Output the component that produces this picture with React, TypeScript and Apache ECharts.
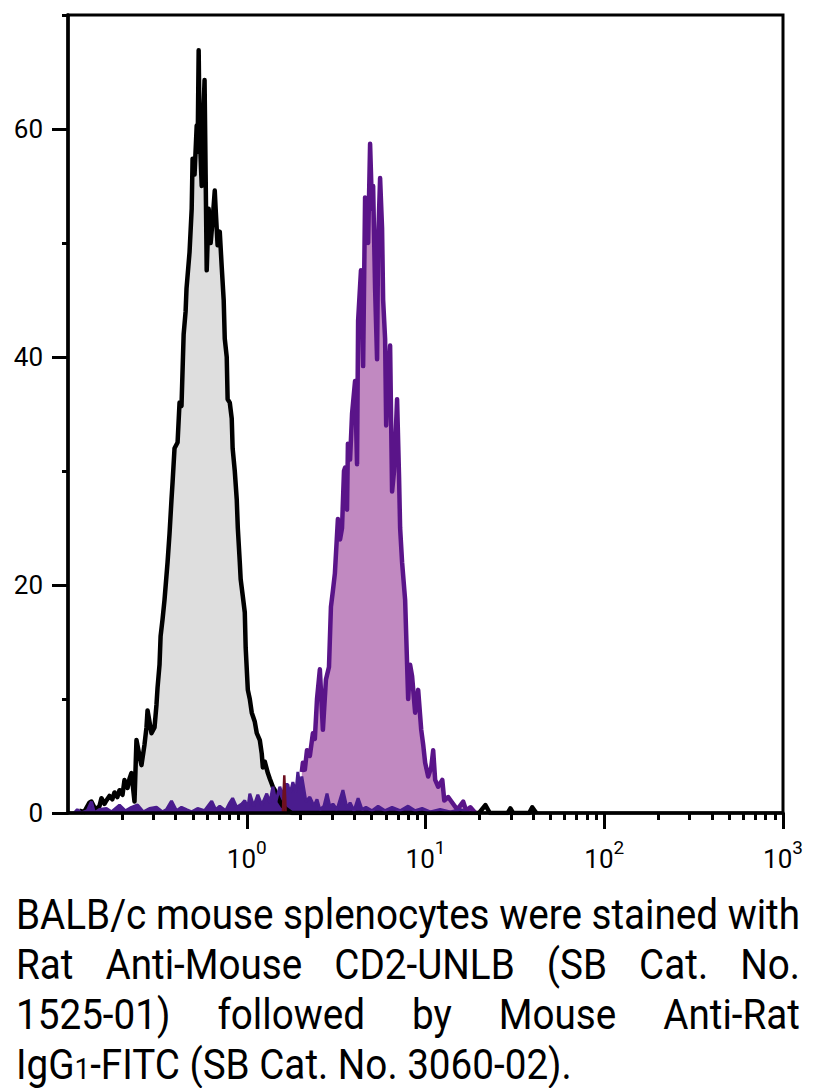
import React, { useEffect, useRef } from "react";
import * as echarts from "echarts";

// ---- ticks ----
const yMajorTicks = [0, 20, 40, 60];
const yMinorTicks = [10, 30, 50, 70];
const xMajorDecades = [0, 1, 2, 3];
const xMinorMultipliers = [2, 3, 4, 5, 6, 7, 8, 9];
const xMinorDecades: number[] = [];
[-1, 0, 1, 2].forEach((d) => xMinorMultipliers.forEach((m) => xMinorDecades.push(d + Math.log10(m))));

// ---- data: [log10 fluorescence, count] ----
const blackOutline: [number, number][] = [
  [-0.937, 0.2], [-0.909, 0.1], [-0.881, 0.9], [-0.869, 1.0], [-0.847, 0.3], [-0.824, 0.6],
  [-0.813, 1.3], [-0.796, 0.8], [-0.785, 1.1], [-0.768, 1.5], [-0.752, 1.2], [-0.74, 1.8],
  [-0.724, 1.4], [-0.712, 2.0], [-0.695, 1.6], [-0.684, 2.9], [-0.667, 2.2], [-0.656, 3.0],
  [-0.645, 3.5], [-0.628, 1.0], [-0.617, 6.4], [-0.6, 5.0], [-0.589, 4.2], [-0.572, 6.0],
  [-0.561, 7.5], [-0.555, 9.0], [-0.544, 8.0], [-0.533, 7.0], [-0.516, 7.5], [-0.505, 9.5],
  [-0.499, 11.0], [-0.488, 13.0], [-0.482, 15.5], [-0.471, 17.0], [-0.46, 18.7], [-0.443, 22.0],
  [-0.432, 24.5], [-0.421, 27.5], [-0.415, 29.0], [-0.404, 32.0], [-0.387, 32.5], [-0.376, 36.0],
  [-0.365, 35.7], [-0.353, 42.0], [-0.342, 44.0], [-0.337, 46.0], [-0.32, 49.2], [-0.308, 53.0],
  [-0.303, 57.4], [-0.292, 56.0], [-0.28, 60.3], [-0.275, 58.0], [-0.269, 66.9], [-0.264, 60.0],
  [-0.252, 55.0], [-0.241, 62.0], [-0.236, 64.3], [-0.23, 56.0], [-0.224, 47.6], [-0.213, 53.0],
  [-0.202, 50.0], [-0.191, 52.0], [-0.179, 54.6], [-0.174, 53.0], [-0.163, 49.8], [-0.151, 51.0],
  [-0.14, 47.9], [-0.129, 45.0], [-0.123, 41.6], [-0.112, 40.0], [-0.107, 36.3], [-0.095, 36.0],
  [-0.084, 34.6], [-0.079, 32.0], [-0.067, 30.0], [-0.056, 27.5], [-0.05, 25.0], [-0.039, 22.0],
  [-0.034, 20.5], [-0.022, 19.0], [-0.011, 17.6], [-0.006, 14.5], [0.006, 10.8], [0.017, 10.0],
  [0.028, 8.8], [0.045, 8.0], [0.056, 7.0], [0.073, 6.4], [0.084, 5.2], [0.09, 4.0],
  [0.101, 4.5], [0.118, 3.5], [0.129, 3.0], [0.146, 2.3], [0.157, 2.0], [0.174, 1.4],
  [0.185, 1.0], [0.202, 0.6], [0.224, 0.3], [0.252, 0], [1.3, 0], [1.335, 0.7],
  [1.36, 0], [1.46, 0], [1.475, 0.4], [1.49, 0], [1.58, 0], [1.597, 0.5], [1.62, 0],
];
const grayFillRange = [-0.617, 0.26];

const purpleStained: [number, number][] = [
  [0.308, 3.6], [0.314, 4.4], [0.325, 3.8], [0.337, 5.5], [0.353, 5.0], [0.37, 7.0],
  [0.381, 6.5], [0.393, 10.0], [0.409, 12.6], [0.426, 7.3], [0.443, 11.7], [0.46, 12.8],
  [0.471, 18.1], [0.482, 19.5], [0.493, 21.0], [0.51, 25.8], [0.522, 24.0], [0.533, 25.0],
  [0.544, 30.0], [0.55, 30.3], [0.561, 26.6], [0.566, 32.4], [0.578, 31.0], [0.589, 35.0],
  [0.606, 37.9], [0.617, 30.6], [0.623, 43.2], [0.639, 47.6], [0.651, 39.2], [0.662, 54.0],
  [0.673, 53.0], [0.679, 50.0], [0.69, 58.7], [0.701, 53.0], [0.707, 55.0], [0.718, 46.0],
  [0.729, 39.8], [0.735, 50.2], [0.746, 55.7], [0.757, 51.3], [0.763, 45.0], [0.774, 41.6],
  [0.78, 34.0], [0.791, 38.0], [0.802, 41.0], [0.813, 28.2], [0.824, 30.0], [0.83, 31.9],
  [0.841, 36.3], [0.852, 29.5], [0.858, 25.0], [0.869, 22.0], [0.886, 18.7], [0.903, 10.0],
  [0.914, 13.0], [0.925, 12.0], [0.942, 8.8], [0.959, 10.8], [0.976, 7.3], [0.987, 6.0],
  [0.998, 4.4], [1.015, 3.2], [1.032, 4.0], [1.043, 5.5], [1.054, 2.9], [1.071, 2.3],
  [1.094, 2.9], [1.105, 1.1], [1.127, 1.4], [1.15, 0.9], [1.178, 0.3], [1.211, 1.0],
  [1.228, 0.2], [1.251, 0.5], [1.279, 0],
];

const indigoBaseline: [number, number][] = [
  [-0.965, 0], [-0.948, 0.3], [-0.925, 0], [-0.892, 0.2], [-0.869, 1.0], [-0.852, 0],
  [-0.824, 0.3], [-0.785, 0.4], [-0.757, 0.1], [-0.712, 0.7], [-0.679, 0.2], [-0.645, 0.5],
  [-0.611, 0.7], [-0.578, 0.1], [-0.544, 0.4], [-0.505, 0.5], [-0.471, 0.1], [-0.449, 0.3],
  [-0.421, 1.05], [-0.393, 0.2], [-0.365, 0.5], [-0.337, 0.3], [-0.308, 0.1], [-0.275, 0.4],
  [-0.236, 0.2], [-0.196, 1.05], [-0.174, 0.3], [-0.151, 0.6], [-0.118, 0.2], [-0.095, 0.9],
  [-0.079, 1.3], [-0.056, 0.5], [-0.028, 0.8], [-0.011, 1.1], [0.006, 0.4], [0.017, 1.7],
  [0.039, 0.6], [0.062, 1.6], [0.084, 0.7], [0.112, 1.7], [0.129, 0.9], [0.146, 2.3],
  [0.163, 1.0], [0.185, 2.3], [0.202, 1.4], [0.213, 2.5], [0.23, 2.5], [0.241, 1.6],
  [0.258, 2.7], [0.275, 1.8], [0.286, 3.6], [0.297, 2.2], [0.308, 3.2], [0.331, 1.0],
  [0.353, 1.4], [0.376, 0.6], [0.393, 1.2], [0.409, 0.3], [0.432, 0.6], [0.449, 1.7],
  [0.466, 0.5], [0.482, 0.8], [0.505, 0.3], [0.538, 2.0], [0.561, 0.4], [0.578, 0.9],
  [0.6, 0.2], [0.623, 1.3], [0.645, 0.3], [0.667, 0.5], [0.701, 0.2], [0.735, 0.6],
  [0.774, 0.2], [0.813, 0.5], [0.858, 0.2], [0.903, 0.6], [0.942, 0.2], [0.981, 0.4],
  [1.026, 0.1], [1.082, 0.3], [1.139, 0.1], [1.195, 0.3], [1.251, 0],
];

const redSpike: [number, number][] = [[0.202, 0], [0.21, 3.3], [0.218, 0]];

const captionLines = [
  "BALB/c mouse splenocytes were stained with",
  "Rat Anti-Mouse CD2-UNLB (SB Cat. No.",
  "1525-01) followed by Mouse Anti-Rat",
];
const captionLast = ["IgG", "1", "-FITC (SB Cat. No. 3060-02)."];

const FONT = "Roboto, 'Open Sans', 'DejaVu Sans', sans-serif";
const CAPTION_SIZE = 42;
const CAPTION_WIDTH = 784;

function measureScale(): number {
  try {
    const c = document.createElement("canvas");
    const ctx = c.getContext("2d");
    if (!ctx) return 0.85;
    ctx.font = `${CAPTION_SIZE}px Roboto`;
    const w = ctx.measureText(captionLines[0]).width;
    return w > 0 ? CAPTION_WIDTH / w : 0.85;
  } catch (e) {
    return 0.85;
  }
}

export default function App() {
  const ref = useRef<HTMLDivElement>(null);
  const scale = measureScale();

  useEffect(() => {
    if (!ref.current) return;
    const chart = echarts.init(ref.current, undefined, { renderer: "svg" });
    const grayFill = blackOutline.filter((p) => p[0] >= grayFillRange[0] && p[0] <= grayFillRange[1]);
    const tickLabelStyle = { fontSize: 26, color: "#000", fontFamily: FONT };
    chart.setOption({
      animation: false,
      backgroundColor: "#fff",
      grid: {
        left: 68, right: 31, top: 15, bottom: 275,
        show: true, borderColor: "#000", borderWidth: 3, backgroundColor: "transparent",
        outerBoundsMode: "none",
      },
      xAxis: [
        {
          type: "value", min: -1, max: 3, position: "bottom", z: 5,
          axisLine: { show: true, onZero: false, lineStyle: { color: "#000", width: 3.5 } },
          axisTick: { show: true, customValues: xMajorDecades, length: 16, lineStyle: { color: "#000", width: 3 } },
          axisLabel: {
            show: true, customValues: xMajorDecades, margin: 25,
            formatter: (v: number) => `{b|10}{s|${v}}`,
            rich: {
              b: { ...tickLabelStyle, lineHeight: 34, verticalAlign: "bottom" },
              s: { fontSize: 19, color: "#000", fontFamily: FONT, lineHeight: 19, verticalAlign: "top" },
            },
          },
          splitLine: { show: false },
        },
        {
          type: "value", min: -1, max: 3, position: "bottom", z: 5,
          axisLine: { show: false, onZero: false },
          axisTick: { show: true, customValues: xMinorDecades, length: 7, lineStyle: { color: "#000", width: 3 } },
          axisLabel: { show: false },
          splitLine: { show: false },
        },
      ],
      yAxis: [
        {
          type: "value", min: 0, max: 70, position: "left", z: 5,
          axisLine: { show: true, onZero: false, lineStyle: { color: "#000", width: 3.5 } },
          axisTick: { show: true, customValues: yMajorTicks, length: 16, lineStyle: { color: "#000", width: 3 } },
          axisLabel: { show: true, customValues: yMajorTicks, margin: 25, ...tickLabelStyle },
          splitLine: { show: false },
        },
        {
          type: "value", min: 0, max: 70, position: "left", z: 5,
          axisLine: { show: false, onZero: false },
          axisTick: { show: true, customValues: yMinorTicks, length: 6, lineStyle: { color: "#000", width: 3 } },
          axisLabel: { show: false },
          splitLine: { show: false },
        },
      ],
      series: [
        {
          name: "unstained fill", type: "line", data: grayFill, symbol: "none", showSymbol: false,
          lineStyle: { width: 0, opacity: 0 }, areaStyle: { color: "#dedede", opacity: 1 },
        },
        {
          name: "unstained", type: "line", data: blackOutline, symbol: "none", showSymbol: false,
          lineStyle: { color: "#000", width: 4.5, join: "round" },
        },
        {
          name: "stained", type: "line", data: purpleStained, symbol: "none", showSymbol: false,
          lineStyle: { color: "#5a1489", width: 4.5, join: "round" }, areaStyle: { color: "#c189c1", opacity: 1 },
        },
        {
          name: "baseline", type: "line", data: indigoBaseline, symbol: "none", showSymbol: false,
          lineStyle: { color: "#4a1c8e", width: 3 }, areaStyle: { color: "#4a1c8e", opacity: 1 },
        },
        {
          name: "spike", type: "line", data: redSpike, symbol: "none", showSymbol: false,
          lineStyle: { color: "#6e1020", width: 2.5 }, areaStyle: { color: "#6e1020", opacity: 1 },
        },
      ],
    });
    return () => chart.dispose();
  }, []);

  const innerWidth = CAPTION_WIDTH / scale;
  const lineStyle: React.CSSProperties = {
    height: 50, lineHeight: "50px", whiteSpace: "nowrap", width: innerWidth,
    transform: `scaleX(${scale})`, transformOrigin: "left top",
  };

  return (
    <div style={{ position: "absolute", left: 0, top: 0, width: 814, height: 1088, background: "#fff" }}>
      <div ref={ref} style={{ position: "absolute", left: 0, top: 0, width: 814, height: 1088 }} />
      <div
        style={{
          position: "absolute", left: 16, top: 890, width: CAPTION_WIDTH,
          fontFamily: FONT, fontSize: CAPTION_SIZE, color: "#000",
        }}
      >
        {captionLines.map((line, i) => (
          <div key={i} style={{ ...lineStyle, display: "flex", justifyContent: "space-between" }}>
            {line.split(" ").map((w, j) => (
              <span key={j}>{w}</span>
            ))}
          </div>
        ))}
        <div style={lineStyle}>
          {captionLast[0]}
          <span style={{ fontSize: "0.72em" }}>{captionLast[1]}</span>
          {captionLast[2]}
        </div>
      </div>
    </div>
  );
}
